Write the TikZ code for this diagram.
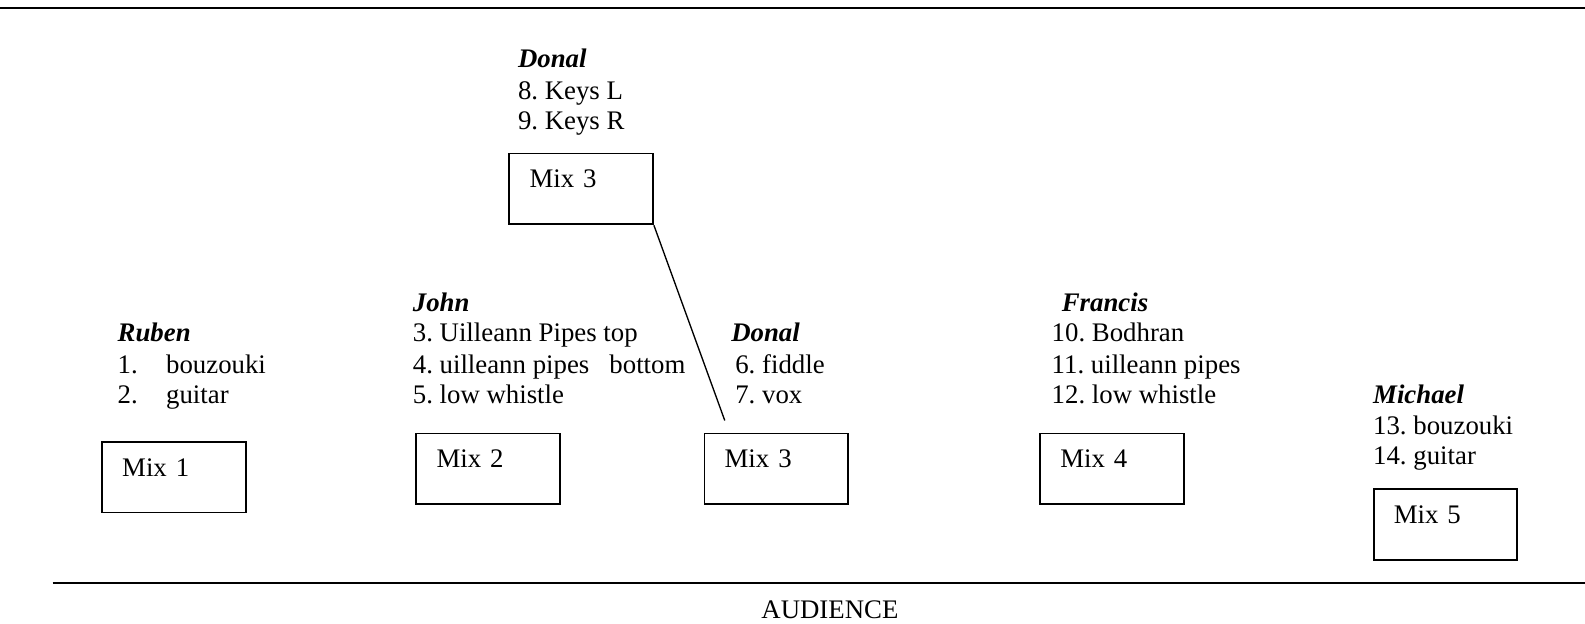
\documentclass[tikz,border=0pt]{standalone}
\usepackage{fontspec}
\setmainfont{Liberation Serif}
\usepackage{tikz}
\frenchspacing
\newcommand\player[1]{\textbf{\textit{#1}}}
\tikzset{
  mixbox/.style={draw, line width=0.8pt, anchor=north west, inner xsep=9.05pt, inner ysep=0pt,
    text width=46.2pt, align=left, text height=15.4pt, text depth=16.3pt},
  txt/.style={anchor=base west, inner sep=0pt},
  rule/.style={line width=0.9pt}
}

\begin{document}
\begin{tikzpicture}[x=0.4525pt, y=-0.4525pt, font=\fontsize{12}{13.8}\selectfont\frenchspacing]
        \useasboundingbox (0,0) rectangle (1568,617);
        \draw[rule] (0,8) -- (1568,8);
        \draw[rule] (52,577) -- (1568,577);
        \node[txt] (ruben) at (116,338) {\player{Ruben}};
        \node[txt] (ruben1) at (116,369) {\makebox[21.7pt][l]{1.}bouzouki};
        \node[txt] (ruben2) at (116,399) {\makebox[21.7pt][l]{2.}guitar};
        \node[mixbox] (mix1) at (100,436) {Mix 1};
        \node[txt] (john) at (408,308) {\player{John}};
        \node[txt] (john3) at (408,338) {3. Uilleann Pipes top};
        \node[txt] (john4) at (408,369) {4. uilleann pipes\ \ \ bottom};
        \node[txt] (john5) at (408,399) {5. low whistle};
        \node[mixbox] (mix2) at (411,428) {Mix 2};
        \node[txt] (donaltop) at (512,67) {\player{Donal}};
        \node[txt] (donal8) at (512,98) {8. Keys L};
        \node[txt] (donal9) at (512,128) {9. Keys R};
        \node[mixbox] (mix3top) at (503,151) {Mix 3};
        \node[txt] (donal) at (723,338) {\player{Donal}};
        \node[txt] (donal6) at (727,369) {6. fiddle};
        \node[txt] (donal7) at (727,399) {7. vox};
        \node[mixbox] (mix3) at (696,428) {Mix 3};
        \coordinate (drop) at (717,416);
        \draw[line width=0.6pt] (mix3top.south east) -- (drop);
        \node[txt] (francis) at (1050,308) {\player{Francis}};
        \node[txt] (francis10) at (1040,338) {10. Bodhran};
        \node[txt] (francis11) at (1040,369) {11. uilleann pipes};
        \node[txt] (francis12) at (1040,399) {12. low whistle};
        \node[mixbox] (mix4) at (1028,428) {Mix 4};
        \node[txt] (michael) at (1358,399) {\player{Michael}};
        \node[txt] (michael13) at (1358,430) {13. bouzouki};
        \node[txt] (michael14) at (1358,460) {14. guitar};
        \node[mixbox] (mix5) at (1358,483) {Mix 5};
        \node[anchor=base, inner sep=0pt] (audience) at (821,612) {AUDIENCE};
      \end{tikzpicture}
\end{document}
